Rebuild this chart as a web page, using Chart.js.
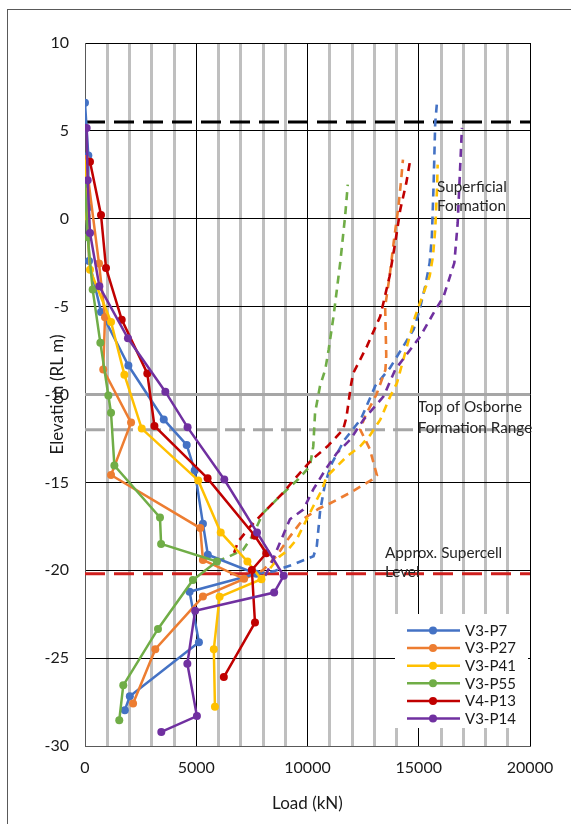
<!DOCTYPE html>
<html><head><meta charset="utf-8">
<script src="https://cdn.jsdelivr.net/npm/chart.js@4"></script>
<style>html,body{margin:0;padding:0;background:#fff;}</style>
</head><body>
<canvas id="c" width="571" height="824" style="display:block"></canvas>
<script>
// ---- series names & colours ----
const seriesNames = ['V3-P7','V3-P27','V3-P41','V3-P55','V4-P13','V3-P14'];
const seriesColors = ['#4472C4','#ED7D31','#FFC000','#70AD47','#C00000','#7030A0'];

// ---- measured load-elevation (solid, with markers) ----
const p7Load  = [0,150,150,180,720,1950,3540,4570,4930,5300,5520,7700,4700,5120,2015,1790];
const p7Elev  = [6.6,3.6,0.65,-2.4,-5.3,-8.35,-11.42,-12.87,-14.32,-17.35,-19.12,-20.2,-21.22,-24.09,-27.17,-27.96];
const p27Load = [30,630,900,820,2070,1170,5180,5300,7150,5300,3160,2160];
const p27Elev = [3.4,-2.55,-5.6,-8.58,-11.6,-14.58,-17.6,-19.41,-20.49,-21.5,-24.49,-27.58];
const p41Load = [0,75,225,1170,1770,2550,5090,6100,7300,7930,6050,5790,5840];
const p41Elev = [3.14,0.14,-2.9,-5.87,-8.87,-11.94,-14.89,-17.85,-19.5,-20.51,-21.51,-24.49,-27.77];
const p55Load = [0,120,345,690,1050,1170,1320,3370,3420,5930,4850,3280,1720,1540];
const p55Elev = [1.98,-1.05,-4.03,-7.06,-10.06,-11.04,-14.04,-17.0,-18.5,-19.5,-20.55,-23.34,-26.55,-28.53];
const p13Load = [225,720,945,1650,2800,3120,5510,7630,8150,7500,7640,6240];
const p13Elev = [3.24,0.22,-2.8,-5.74,-8.8,-11.79,-14.77,-18.04,-19.03,-19.98,-22.98,-26.08];
const p14Load = [75,120,225,645,1930,3610,4610,6260,7730,8930,8500,4950,4600,5030,3430];
const p14Elev = [5.17,2.19,-0.81,-3.84,-6.8,-9.84,-11.87,-14.84,-17.85,-20.32,-21.27,-22.3,-25.32,-28.3,-29.2];

// ---- dashed curves (no markers), bottom to top ----
const p7cLoad  = [7700,8500,9400,10270,10420,10570,10800,11100,11650,12400,13050,13700,14770,15040,15290,15490,15590,15670,15740,15820];
const p7cElev  = [-20.2,-20.05,-19.65,-19.2,-18.6,-16.6,-15.0,-13.9,-12.6,-11.4,-9.5,-8.5,-6.3,-5.17,-3.84,-2.51,-1.0,2.04,5.46,6.63];
const p27cLoad = [7300,8000,8600,9200,9800,10500,11000,11900,12900,13120,12800,12370,12600,13100,13500,13540,13490,13690,13870,14090,14210,14290];
const p27cElev = [-20.4,-20.0,-19.2,-18.1,-17.1,-16.5,-16.2,-15.6,-14.85,-14.6,-13.1,-12.0,-11.2,-10.0,-8.6,-7.8,-5.0,-3.27,-1.38,0.71,2.23,3.37];
const p41cLoad = [7930,8760,9060,9510,10260,10650,10860,11170,11770,12370,12820,13270,13720,14020,14470,14840,15140,15490,15640,15740,15820,15850];
const p41cElev = [-20.51,-19.2,-18.92,-18.25,-16.36,-15.42,-14.67,-14.28,-13.52,-12.95,-12.3,-11.43,-10.1,-9.35,-7.26,-5.55,-4.5,-3.27,-2.13,-0.62,1.66,3.08];
const p55cLoad = [5930,6500,7100,7550,8000,8750,9600,10110,10260,10340,10560,10800,10950,11170,11470,11690,11810];
const p55cElev = [-19.5,-19.2,-18.84,-18.0,-16.75,-15.8,-14.8,-14.08,-12.94,-11.04,-9.53,-8.57,-7.45,-5.55,-2.51,0.14,1.94];
const p13cLoad = [6700,6730,6880,7400,8000,8900,9400,10200,10900,11600,11750,11950,12050,12670,13270,13690,13940,14170,14440,14620];
const p13cElev = [-19.0,-18.9,-18.37,-17.55,-16.75,-15.6,-14.84,-13.7,-12.95,-12.0,-11.3,-9.5,-8.8,-7.26,-5.55,-3.27,-1.38,0.52,2.04,3.37];
const p14cLoad = [8100,8320,8760,9210,9810,10260,10860,11320,11920,12520,13420,13950,15070,15670,16120,16600,16750,16870,16940];
const p14cElev = [-20.3,-19.77,-18.44,-17.1,-16.55,-15.4,-14.17,-13.33,-12.57,-11.43,-10.1,-8.57,-6.69,-5.36,-4.41,-2.51,-0.24,3.18,5.17];

// ---- reference levels ----
const refLevels = [5.5,-10,-12,-20.2];
const refLoadRange = [0,20000];

// ---- axis ticks ----
const xMin = 0, xMax = 20000, xMajor = 5000, xMinor = 1000;
const yMin = -30, yMax = 10, yStep = 5;

// ---- annotations ----
const notes = [
  {lines:['Superficial','Formation'], x:15820, y:[1.83,0.7]},
  {lines:['Top of Osborne','Formation Range'], x:14960, y:[-10.74,-11.93]},
  {lines:['Approx. Supercell','Level'], x:13480, y:[-19.0,-20.13]}
];

const pts = (xs, ys) => xs.map((x,i)=>({x:x, y:ys[i]}));
const solid = [[p7Load,p7Elev],[p27Load,p27Elev],[p41Load,p41Elev],[p55Load,p55Elev],[p13Load,p13Elev],[p14Load,p14Elev]];
const dashed = [[p7cLoad,p7cElev],[p27cLoad,p27cElev],[p41cLoad,p41cElev],[p55cLoad,p55cElev],[p13cLoad,p13cElev],[p14cLoad,p14cElev]];

const datasets = [];
solid.forEach((s,i)=>datasets.push({
  label: seriesNames[i], data: pts(s[0],s[1]), showLine:true,
  borderColor: seriesColors[i], backgroundColor: seriesColors[i],
  borderWidth: 2.5, pointRadius: 4, pointBorderWidth: 0,
  pointBackgroundColor: seriesColors[i], order: 6 - i
}));
dashed.forEach((s,i)=>datasets.push({
  label: seriesNames[i] + ' (dashed)', data: pts(s[0],s[1]), showLine:true,
  borderColor: seriesColors[i], borderWidth: 2.6, borderDash:[8,6],
  pointRadius: 0, order: 20 - i
}));
const refStyles = [
  {c:'#000000', d:[20,9]}, {c:'#A6A6A6', d:[]}, {c:'#A6A6A6', d:[20,8]}, {c:'#D0201E', d:[20,9]}
];
refLevels.forEach((lv,i)=>datasets.push({
  label:'ref'+i, data: refLoadRange.map(x=>({x:x,y:lv})), showLine:true,
  borderColor: refStyles[i].c, borderWidth: 3, borderDash: refStyles[i].d,
  pointRadius: 0, order: 40 - i
}));

const FONT = 'Lato, "Open Sans", sans-serif';

const extras = {
  id:'extras',
  beforeDraw(chart){
    const ctx = chart.ctx;
    ctx.save();
    ctx.fillStyle = '#fff';
    ctx.fillRect(0,0,chart.width,chart.height);
    ctx.restore();
  },
  afterDatasetsDraw(chart){
    const ctx = chart.ctx, xs = chart.scales.x, ys = chart.scales.y;
    ctx.save();
    // annotations
    ctx.fillStyle = '#262626';
    ctx.font = '15.3px ' + FONT;
    ctx.textBaseline = 'middle';
    ctx.textAlign = 'left';
    notes.forEach(n=>{
      n.lines.forEach((t,k)=>ctx.fillText(t, xs.getPixelForValue(n.x), ys.getPixelForValue(n.y[k])));
    });
    // legend
    ctx.fillStyle = '#fff';
    ctx.fillRect(395, 614, 133, 114);
    seriesNames.forEach((nm,i)=>{
      const y = 630.5 + i*17.6;
      ctx.strokeStyle = seriesColors[i];
      ctx.lineWidth = 2.5;
      ctx.beginPath(); ctx.moveTo(407,y); ctx.lineTo(460,y); ctx.stroke();
      ctx.fillStyle = seriesColors[i];
      ctx.beginPath(); ctx.arc(433,y,4,0,Math.PI*2); ctx.fill();
      ctx.fillStyle = '#1a1a1a';
      ctx.font = '15px ' + FONT;
      ctx.fillText(nm, 465, y+0.5);
    });
    // outer frame
    ctx.strokeStyle = '#595959';
    ctx.lineWidth = 1;
    ctx.strokeRect(7.5, 9.5, 700, 900);
    ctx.restore();
  }
};

new Chart(document.getElementById('c'), {
  type:'scatter',
  data:{datasets},
  options:{
    responsive:false, animation:false, devicePixelRatio:1,
    layout:{padding:{top:43,right:41,left:0,bottom:0}},
    plugins:{legend:{display:false}, tooltip:{enabled:false}},
    scales:{
      x:{
        type:'linear', min:xMin, max:xMax,
        afterFit:s=>{s.height=78;},
        ticks:{stepSize:xMinor, autoSkip:false, maxRotation:0, padding:12,
          color:'#1a1a1a', font:{family:FONT, size:16},
          callback:v=> (v % xMajor === 0) ? String(v) : ''},
        grid:{drawTicks:false,
          color:c=> (c.tick && c.tick.value % xMajor === 0) ? '#000000' : '#BFBFBF',
          lineWidth:c=> (c.tick && c.tick.value % xMajor === 0) ? 1 : 3},
        border:{display:true, color:'#595959', width:1},
        title:{display:true, text:'Load (kN)', color:'#1a1a1a', font:{family:FONT, size:17}, padding:{bottom:10}}
      },
      y:{
        type:'linear', min:yMin, max:yMax,
        afterFit:s=>{s.width=85;},
        ticks:{stepSize:yStep, padding:16, color:'#1a1a1a', font:{family:FONT, size:16}},
        grid:{drawTicks:false, color:'#000000', lineWidth:1},
        border:{display:true, color:'#595959', width:1},
        title:{display:true, text:'Elevation (RL m)', color:'#1a1a1a', font:{family:FONT, size:17}, padding:{top:47}}
      }
    }
  },
  plugins:[extras]
});
</script>
</body></html>
